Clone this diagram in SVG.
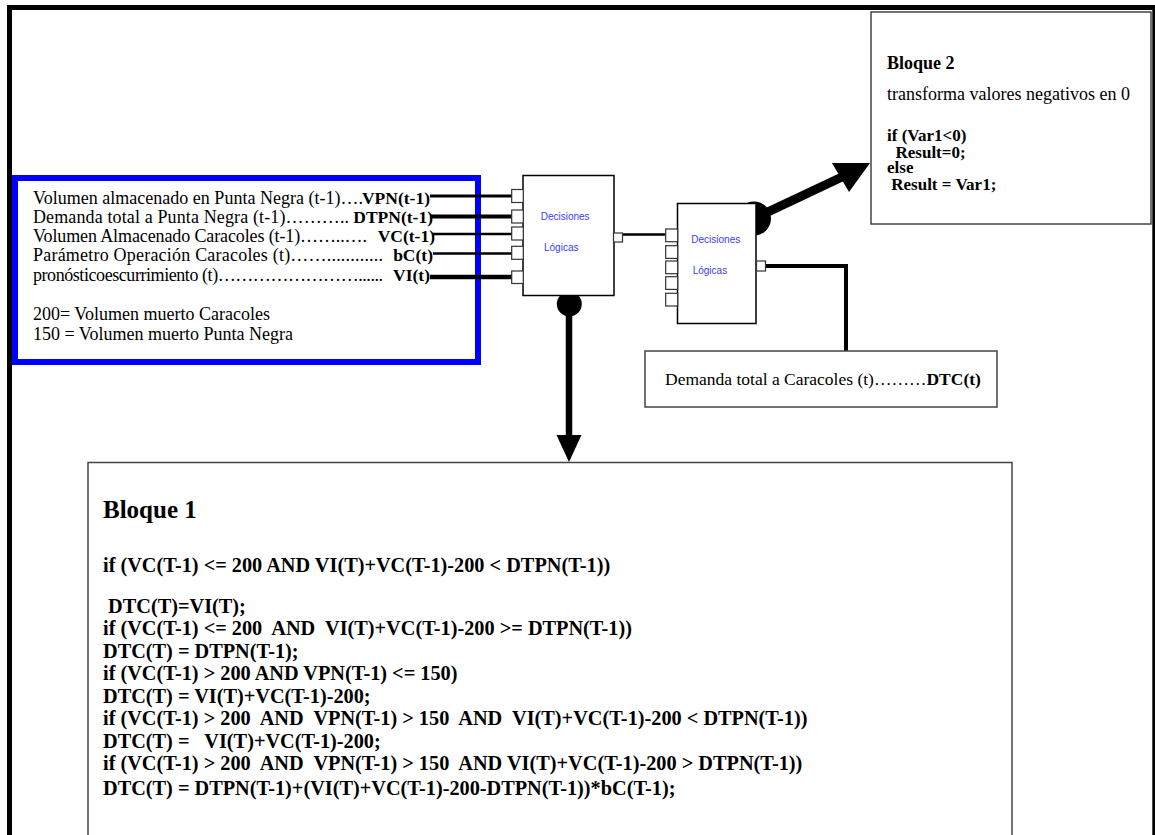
<svg xmlns="http://www.w3.org/2000/svg" width="1155" height="835" viewBox="0 0 1155 835">
<style>
.t{font-family:"Liberation Serif","Times New Roman",serif;font-size:17.5px;fill:#000}
.m{font-size:18px}
.c{font-size:17px}
.k{font-size:20.3px}
.b{font-weight:bold}
.d{font-family:"Liberation Sans",Arial,sans-serif;font-size:10px;fill:#3a3aff}
.box{fill:#fff;stroke:#000;stroke-width:1.5}
.gbox{fill:#fff;stroke:#444;stroke-width:1.5}
.port{fill:#fff;stroke:#333;stroke-width:1.2}
.w{stroke:#000;fill:none}
</style>
<rect width="1155" height="835" fill="#fff"/>
<g id="frame">
<rect x="7" y="5" width="1148" height="5" fill="#000"/>
<rect x="7" y="10" width="5" height="825" fill="#000"/>
<rect x="1152.3" y="5" width="2.7" height="830" fill="#000"/>
</g>
<g id="bloque2">
<rect class="gbox" x="871" y="12" width="280" height="212"/>
<text class="t m b" x="887" y="69">Bloque 2</text>
<text class="t m" x="887" y="100">transforma valores negativos en 0</text>
<text class="t c b" x="887" y="141">if (Var1&lt;0)</text>
<text class="t c b" x="887" y="157.5" xml:space="preserve">  Result=0;</text>
<text class="t c b" x="887" y="173">else</text>
<text class="t c b" x="887" y="189.5" xml:space="preserve"> Result = Var1;</text>
</g>
<g id="inputs">
<rect x="15" y="178" width="463" height="184" fill="#fff" stroke="#0000ff" stroke-width="6"/>
<text class="t m" x="33" y="204" textLength="330" lengthAdjust="spacing">Volumen almacenado en Punta Negra (t-1)….</text>
<text class="t b" x="430" y="204" text-anchor="end">VPN(t-1)</text>
<text class="t m" x="33" y="223" textLength="316" lengthAdjust="spacing">Demanda total a Punta Negra (t-1)………..</text>
<text class="t b" x="433" y="223" text-anchor="end">DTPN(t-1)</text>
<text class="t m" x="33" y="242" textLength="334" lengthAdjust="spacing">Volumen Almacenado Caracoles (t-1)……..….</text>
<text class="t b" x="435" y="242" text-anchor="end">VC(t-1)</text>
<text class="t m" x="33" y="261" textLength="350" lengthAdjust="spacing">Parámetro Operación Caracoles (t)……............</text>
<text class="t b" x="433" y="261" text-anchor="end">bC(t)</text>
<text class="t m" x="33" y="281" textLength="350" lengthAdjust="spacing">pronósticoescurrimiento (t)……………………......</text>
<text class="t b" x="430" y="281" text-anchor="end">VI(t)</text>
<text class="t m" x="33" y="320">200= Volumen muerto Caracoles</text>
<text class="t m" x="33" y="340">150 = Volumen muerto Punta Negra</text>
</g>
<g id="connectors">
<line class="w" x1="430" y1="196" x2="512" y2="196" stroke-width="3"/>
<line class="w" x1="430" y1="216.5" x2="512" y2="216.5" stroke-width="4"/>
<line class="w" x1="433" y1="234" x2="527" y2="234" stroke-width="2.5"/>
<line class="w" x1="433" y1="253.5" x2="512" y2="253.5" stroke-width="2.5"/>
<line class="w" x1="430" y1="277" x2="512" y2="277" stroke-width="4.5"/>
<line class="w" x1="622" y1="234.5" x2="666" y2="234.5" stroke-width="2.5"/>
<polyline class="w" points="765,266 846,266 846,351" stroke-width="4"/>
<line class="w" x1="569" y1="304" x2="569" y2="437" stroke-width="6.5"/>
<polygon points="556.5,435 581.5,435 569,462" fill="#000"/>
<circle cx="569.3" cy="304" r="12.5" fill="#000"/>
<line class="w" x1="754" y1="218.5" x2="842" y2="177" stroke-width="9"/>
<polygon points="832,163 870,163 849,192" fill="#000"/>
<circle cx="754" cy="218.5" r="17" fill="#000"/>
</g>
<g id="decision1">
<rect class="box" x="523" y="175.5" width="91" height="120"/>
<rect class="port" x="511.7" y="189.5" width="11.6" height="13"/>
<rect class="port" x="511.7" y="210" width="11.6" height="13"/>
<rect class="port" x="511.7" y="227" width="11.6" height="13"/>
<rect class="port" x="511.7" y="246.3" width="11.6" height="13"/>
<rect class="port" x="511.7" y="271" width="11.6" height="12.5"/>
<rect class="port" x="613.5" y="233" width="9" height="9"/>
<text class="d" x="540.7" y="219.5">Decisiones</text>
<text class="d" x="544" y="251">Lógicas</text>
</g>
<g id="decision2">
<rect class="box" x="677.5" y="203.5" width="78.5" height="120"/>
<rect class="port" x="665.7" y="229" width="12" height="12.7"/>
<rect class="port" x="665.7" y="245.7" width="12" height="12.7"/>
<rect class="port" x="665.7" y="261" width="12" height="12.7"/>
<rect class="port" x="665.7" y="276.7" width="12" height="12.7"/>
<rect class="port" x="665.7" y="293.3" width="12" height="12.7"/>
<rect class="port" x="756.5" y="261" width="9" height="10"/>
<text class="d" x="691.3" y="243">Decisiones</text>
<text class="d" x="692.7" y="273.5">Lógicas</text>
</g>
<g id="demanda">
<rect class="gbox" x="645" y="351" width="352" height="56"/>
<text class="t" x="665" y="385">Demanda total a Caracoles (t)………<tspan class="b">DTC(t)</tspan></text>
</g>
<g id="bloque1">
<rect class="gbox" x="88" y="462.5" width="924" height="380"/>
<text class="t b" x="103" y="518" style="font-size:25px">Bloque 1</text>
<text class="t k b" x="103" y="572">if (VC(T-1) &lt;= 200 AND VI(T)+VC(T-1)-200 &lt; DTPN(T-1))</text>
<text class="t k b" x="103" y="613" xml:space="preserve"> DTC(T)=VI(T);</text>
<text class="t k b" x="103" y="635" xml:space="preserve">if (VC(T-1) &lt;= 200  AND  VI(T)+VC(T-1)-200 &gt;= DTPN(T-1))</text>
<text class="t k b" x="103" y="657.5">DTC(T) = DTPN(T-1);</text>
<text class="t k b" x="103" y="680">if (VC(T-1) &gt; 200 AND VPN(T-1) &lt;= 150)</text>
<text class="t k b" x="103" y="702.5">DTC(T) = VI(T)+VC(T-1)-200;</text>
<text class="t k b" x="103" y="725" xml:space="preserve">if (VC(T-1) &gt; 200  AND  VPN(T-1) &gt; 150  AND  VI(T)+VC(T-1)-200 &lt; DTPN(T-1))</text>
<text class="t k b" x="103" y="747.5" xml:space="preserve">DTC(T) =   VI(T)+VC(T-1)-200;</text>
<text class="t k b" x="103" y="770" xml:space="preserve">if (VC(T-1) &gt; 200  AND  VPN(T-1) &gt; 150  AND VI(T)+VC(T-1)-200 &gt; DTPN(T-1))</text>
<text class="t k b" x="103" y="795">DTC(T) = DTPN(T-1)+(VI(T)+VC(T-1)-200-DTPN(T-1))*bC(T-1);</text>
</g>
</svg>
